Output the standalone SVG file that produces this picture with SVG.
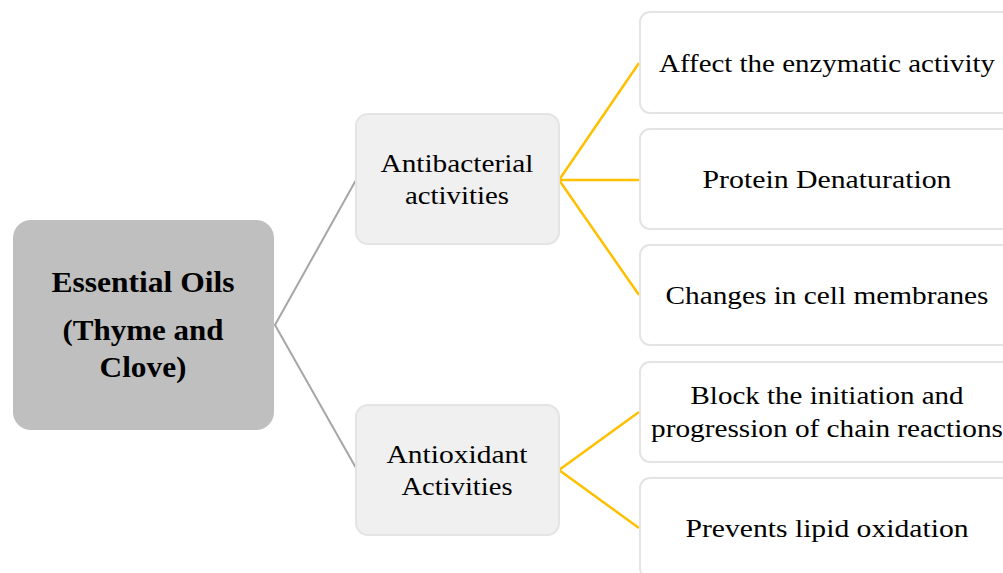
<svg xmlns="http://www.w3.org/2000/svg" width="1003" height="573" viewBox="0 0 1003 573">
<style>
text{font-family:"Liberation Serif","DejaVu Serif",serif;fill:#000;text-anchor:middle;}
.t{font-size:26px;}
.b{font-size:29px;font-weight:bold;}
.mid{fill:#F0F0F0;stroke:#E4E4E4;stroke-width:2;}
.leaf{fill:#FFFFFF;stroke:#E4E4E4;stroke-width:2;}
.g{stroke:#A6A6A6;stroke-width:2;fill:none;}
.y{stroke:#FFC000;stroke-width:2.5;fill:none;}
</style>
<rect width="1003" height="573" fill="#FFFFFF"/>
<g id="connectors">
<path class="g" d="M356,180 L275,325 L356,468"/>
<path class="y" d="M639,63 L559,180 L639,180 M559,180 L639,295"/>
<path class="y" d="M639,412 L559,470 L639,528"/>
</g>
<g id="root">
<rect x="13" y="220" width="261" height="210" rx="18" fill="#BFBFBF"/>
<text class="b" x="143" y="292" textLength="183" lengthAdjust="spacingAndGlyphs">Essential Oils</text>
<text class="b" x="143" y="340" textLength="161" lengthAdjust="spacingAndGlyphs">(Thyme and</text>
<text class="b" x="143" y="377" textLength="87" lengthAdjust="spacingAndGlyphs">Clove)</text>
</g>
<g id="antibacterial">
<rect class="mid" x="356" y="114" width="203" height="130" rx="12"/>
<text class="t" x="457" y="172" textLength="153" lengthAdjust="spacingAndGlyphs">Antibacterial</text>
<text class="t" x="457" y="204" textLength="104" lengthAdjust="spacingAndGlyphs">activities</text>
</g>
<g id="antioxidant">
<rect class="mid" x="356" y="405" width="203" height="130" rx="12"/>
<text class="t" x="457" y="463" textLength="141" lengthAdjust="spacingAndGlyphs">Antioxidant</text>
<text class="t" x="457" y="495" textLength="111" lengthAdjust="spacingAndGlyphs">Activities</text>
</g>
<g id="enzymatic">
<rect class="leaf" x="640" y="12" width="376" height="101" rx="10"/>
<text class="t" x="827" y="72" textLength="336" lengthAdjust="spacingAndGlyphs">Affect the enzymatic activity</text>
</g>
<g id="denaturation">
<rect class="leaf" x="640" y="129" width="376" height="100" rx="10"/>
<text class="t" x="827" y="188" textLength="249" lengthAdjust="spacingAndGlyphs">Protein Denaturation</text>
</g>
<g id="membranes">
<rect class="leaf" x="640" y="245" width="376" height="100" rx="10"/>
<text class="t" x="827" y="304" textLength="323" lengthAdjust="spacingAndGlyphs">Changes in cell membranes</text>
</g>
<g id="chain">
<rect class="leaf" x="640" y="362" width="376" height="100" rx="10"/>
<text class="t" x="827" y="404" textLength="273" lengthAdjust="spacingAndGlyphs">Block the initiation and</text>
<text class="t" x="827" y="437" textLength="352" lengthAdjust="spacingAndGlyphs">progression of chain reactions</text>
</g>
<g id="lipid">
<rect class="leaf" x="640" y="478" width="376" height="100" rx="10"/>
<text class="t" x="827" y="537" textLength="283" lengthAdjust="spacingAndGlyphs">Prevents lipid oxidation</text>
</g>
</svg>
